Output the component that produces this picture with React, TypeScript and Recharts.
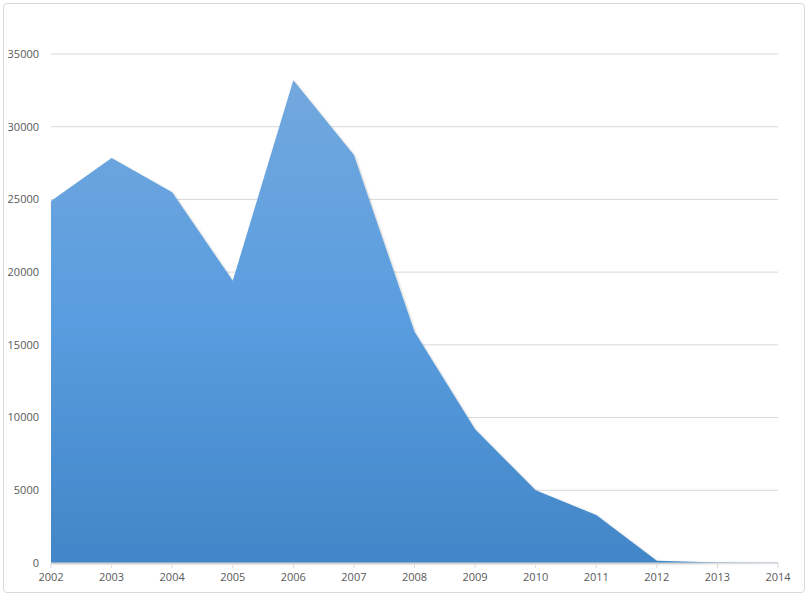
import { AreaChart, Area, XAxis, YAxis, CartesianGrid } from 'recharts';

const YEARS = ['2002', '2003', '2004', '2005', '2006', '2007', '2008', '2009', '2010', '2011', '2012', '2013', '2014'];
const VALUES = [24900, 27850, 25500, 19400, 33200, 28050, 15900, 9200, 5000, 3300, 150, 40, 10];
const Y_TICKS = [0, 5000, 10000, 15000, 20000, 25000, 30000, 35000];

const chartData = YEARS.map((year, i) => ({ year, value: VALUES[i] }));

const tickStyle = { fill: '#595959', fontSize: 11, fontFamily: 'Open Sans, sans-serif' };

export default function App() {
    return (
        <div
            style={{
                position: 'absolute',
                left: 3,
                top: 3,
                width: 800,
                height: 588,
                border: '1px solid #d9d9d9',
                borderRadius: 4,
                background: '#fff',
            }}
        >
            <AreaChart width={800} height={588} data={chartData} margin={{ top: 50, right: 26, left: 0, bottom: 0 }}>
                <defs>
                    <linearGradient id="areaFill" x1="0" y1="0" x2="0" y2="1">
                        <stop offset="0%" stopColor="#72a8de" />
                        <stop offset="50%" stopColor="#599ddf" />
                        <stop offset="100%" stopColor="#4286c8" />
                    </linearGradient>
                    <filter id="edgeShadow" x="-5%" y="-5%" width="110%" height="110%">
                        <feDropShadow dx="1" dy="1" stdDeviation="1.2" floodColor="#000" floodOpacity="0.25" />
                    </filter>
                </defs>
                <CartesianGrid vertical={false} stroke="#d9d9d9" />
                <XAxis
                    dataKey="year"
                    height={29}
                    stroke="#d9d9d9"
                    tick={tickStyle}
                    tickSize={5}
                    tickMargin={5}
                    interval={0}
                />
                <YAxis
                    width={47}
                    domain={[0, 35000]}
                    ticks={Y_TICKS}
                    axisLine={false}
                    tickLine={false}
                    tickSize={0}
                    tickMargin={12}
                    tick={tickStyle}
                />
                <Area
                    type="linear"
                    dataKey="value"
                    stroke="none"
                    fill="url(#areaFill)"
                    fillOpacity={1}
                    filter="url(#edgeShadow)"
                    isAnimationActive={false}
                />
            </AreaChart>
        </div>
    );
}
